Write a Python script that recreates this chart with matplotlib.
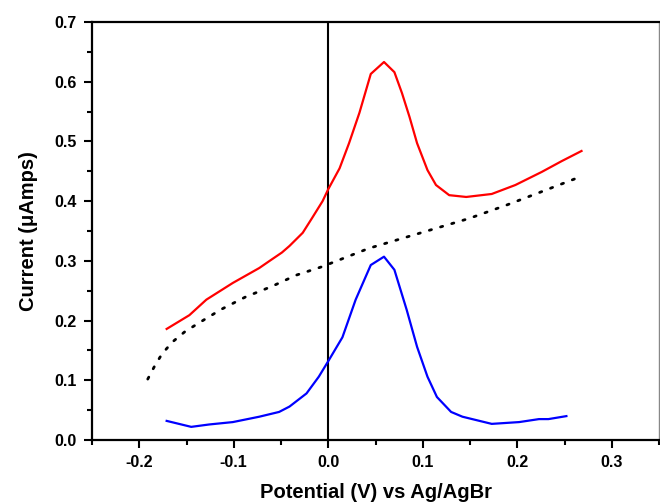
import matplotlib.pyplot as plt
from matplotlib.ticker import MultipleLocator

plt.rcParams['font.family'] = ['Liberation Sans', 'DejaVu Sans']
plt.rcParams['font.weight'] = 'bold'

# anodic sweep
red_x = [-0.171, -0.147, -0.129, -0.101, -0.073, -0.062, -0.049, -0.041, -0.027,
         -0.017, -0.006, 0.0, 0.012, 0.022, 0.033, 0.045, 0.059, 0.070, 0.078,
         0.086, 0.094, 0.105, 0.114, 0.128, 0.146, 0.173, 0.198, 0.226, 0.247, 0.268]
red_y = [0.186, 0.209, 0.235, 0.263, 0.288, 0.300, 0.314, 0.325, 0.347,
         0.372, 0.400, 0.420, 0.455, 0.497, 0.548, 0.613, 0.633, 0.616, 0.581,
         0.541, 0.497, 0.452, 0.427, 0.410, 0.407, 0.412, 0.427, 0.449, 0.467, 0.484]

# background-subtracted
blue_x = [-0.171, -0.145, -0.126, -0.101, -0.073, -0.052, -0.041, -0.023, -0.010,
          0.0, 0.015, 0.029, 0.045, 0.059, 0.070, 0.083, 0.094, 0.105, 0.115,
          0.130, 0.142, 0.173, 0.202, 0.223, 0.233, 0.252]
blue_y = [0.032, 0.022, 0.026, 0.030, 0.039, 0.047, 0.056, 0.078, 0.106,
          0.132, 0.172, 0.235, 0.293, 0.307, 0.285, 0.218, 0.156, 0.106, 0.072,
          0.047, 0.039, 0.027, 0.030, 0.035, 0.035, 0.040]

# baseline
base_x = [-0.191, -0.184, -0.176, -0.165, -0.152, -0.138, -0.113, -0.087, -0.060,
          -0.034, -0.007, 0.043, 0.096, 0.149, 0.188, 0.226, 0.267]
base_y = [0.102, 0.123, 0.144, 0.164, 0.181, 0.195, 0.219, 0.240, 0.257,
          0.276, 0.290, 0.321, 0.346, 0.371, 0.393, 0.416, 0.441]

fig = plt.figure(figsize=(6.6, 5.04), dpi=100)
ax = fig.add_axes([92 / 660, 64 / 504, 567 / 660, 418 / 504])

ax.axvline(0, color='black', linewidth=1.5, zorder=1)
ax.plot(red_x, red_y, color='#ff0000', linewidth=1.6, zorder=3)
ax.plot(blue_x, blue_y, color='#0000ff', linewidth=1.6, zorder=3)
ax.plot(base_x, base_y, color='black', linewidth=2.0, linestyle=(0, (0.8, 3.4)),
        dash_capstyle='round', zorder=2)

ax.set_xlim(-0.25, 0.35)
ax.set_ylim(0.0, 0.7)
ax.xaxis.set_minor_locator(MultipleLocator(0.05))
ax.yaxis.set_minor_locator(MultipleLocator(0.05))
ax.set_xticks([-0.2, -0.1, 0.0, 0.1, 0.2, 0.3])
ax.set_xticklabels(['-0.2', '-0.1', '0.0', '0.1', '0.2', '0.3'])
ax.set_yticks([0.0, 0.1, 0.2, 0.3, 0.4, 0.5, 0.6, 0.7])
ax.set_yticklabels(['0.0', '0.1', '0.2', '0.3', '0.4', '0.5', '0.6', '0.7'])

ax.tick_params(which='major', direction='out', length=6, width=1.5,
               labelsize=11.5, pad=5)
ax.tick_params(which='minor', direction='out', length=3.5, width=1.5)
ax.tick_params(top=False, right=False)

for side in ['left', 'bottom', 'top']:
    ax.spines[side].set_linewidth(1.6)
ax.spines['right'].set_linewidth(1.0)
ax.spines['right'].set_color('#888888')

ax.set_xlabel('Potential (V) vs Ag/AgBr', fontsize=14.5, fontweight='bold', labelpad=9)
ax.set_ylabel('Current (\u03bcAmps)', fontsize=14.5, fontweight='bold', labelpad=12)

fig.savefig('out.png', dpi=100)
